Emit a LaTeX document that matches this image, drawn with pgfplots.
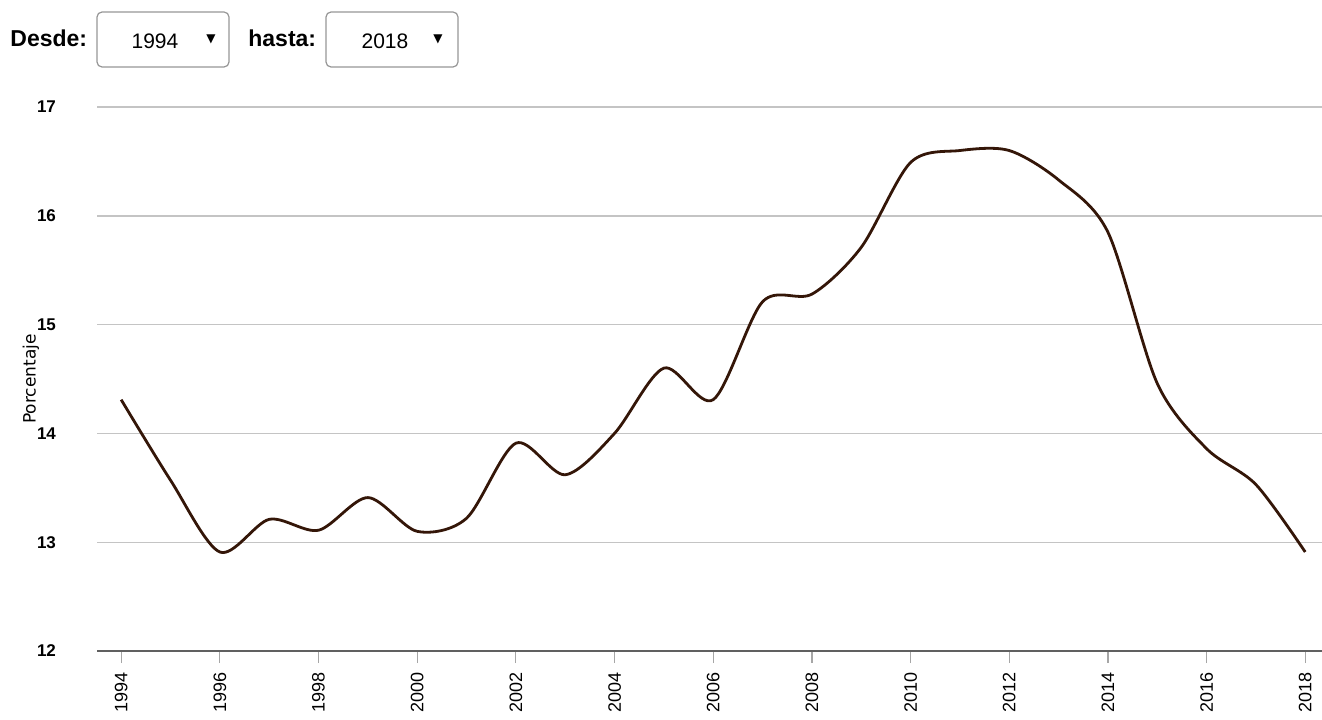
\documentclass[border=0pt]{standalone}
\usepackage{fontspec}
\setmainfont{Liberation Sans}
\newfontfamily\djv{DejaVu Sans}
\usepackage{pgfplots}
\pgfplotsset{compat=1.18}

\definecolor{curve}{RGB}{52,22,8}
\definecolor{gridc}{RGB}{196,196,196}
\definecolor{boxc}{RGB}{150,150,150}

\begin{document}
\begin{tikzpicture}
\useasboundingbox (0,0) rectangle (661pt,359.5pt);

% year selectors
\node[anchor=west, font=\bfseries\fontsize{11.5}{13}\selectfont, inner sep=0pt] at (5pt,340.5pt) {Desde:};
\draw[boxc, line width=0.6pt, rounded corners=2.5pt] (48.5pt,326pt) rectangle (114.5pt,353.5pt);
\node[font=\fontsize{10.5}{12}\selectfont, inner sep=0pt] at (77.5pt,339pt) {1994};
\node[font=\djv\fontsize{6}{7}\selectfont, inner sep=0pt] at (105.5pt,340pt) {▼};
\node[anchor=west, font=\bfseries\fontsize{11.5}{13}\selectfont, inner sep=0pt] at (124pt,340.5pt) {hasta:};
\draw[boxc, line width=0.6pt, rounded corners=2.5pt] (163pt,326pt) rectangle (229pt,353.5pt);
\node[font=\fontsize{10.5}{12}\selectfont, inner sep=0pt] at (192.5pt,339pt) {2018};
\node[font=\djv\fontsize{6}{7}\selectfont, inner sep=0pt] at (219pt,340pt) {▼};

\begin{axis}[
    at={(48.5pt,34pt)}, anchor=south west,
    scale only axis,
    width=612.5pt, height=272pt,
    xmin=1993.51, xmax=2018.34,
    ymin=12, ymax=17,
    xtick={1994,1996,...,2018},
    ytick={12,13,...,17},
    axis x line*=bottom,
    axis y line*=left,
    x axis line style={-, draw=gray!75!black, line width=0.7pt},
    y axis line style={draw=none},
    ytick style={draw=none},
    xtick style={draw=gray!70, line width=0.6pt},
    tick align=outside,
    major tick length=6pt,
    ymajorgrids=true,
    grid style={gridc, line width=0.7pt},
    /pgf/number format/assume math mode=true,
    /pgf/number format/1000 sep={},
    xticklabel style={rotate=90, anchor=east, font=\fontsize{9}{10}\selectfont, xshift=-1pt},
    yticklabel style={anchor=east, font=\bfseries\fontsize{8.5}{9}\selectfont, xshift=-11pt},
    ylabel={Porcentaje},
    ylabel style={font=\djv\fontsize{8.5}{10}\selectfont, at={(axis description cs:-0.054,0.5)}, anchor=center},
    clip=false,
]
\addplot[smooth, color=curve, line width=1.4pt] coordinates {
    (1994,14.31)
    (1995,13.57)
    (1996,12.91)
    (1997,13.21)
    (1998,13.11)
    (1999,13.41)
    (2000,13.10)
    (2001,13.22)
    (2002,13.91)
    (2003,13.62)
    (2004,14.00)
    (2005,14.60)
    (2006,14.31)
    (2007,15.21)
    (2008,15.28)
    (2009,15.71)
    (2010,16.49)
    (2011,16.60)
    (2012,16.60)
    (2013,16.33)
    (2014,15.85)
    (2015,14.46)
    (2016,13.86)
    (2017,13.53)
    (2018,12.91)
};
\end{axis}
\end{tikzpicture}
\end{document}
